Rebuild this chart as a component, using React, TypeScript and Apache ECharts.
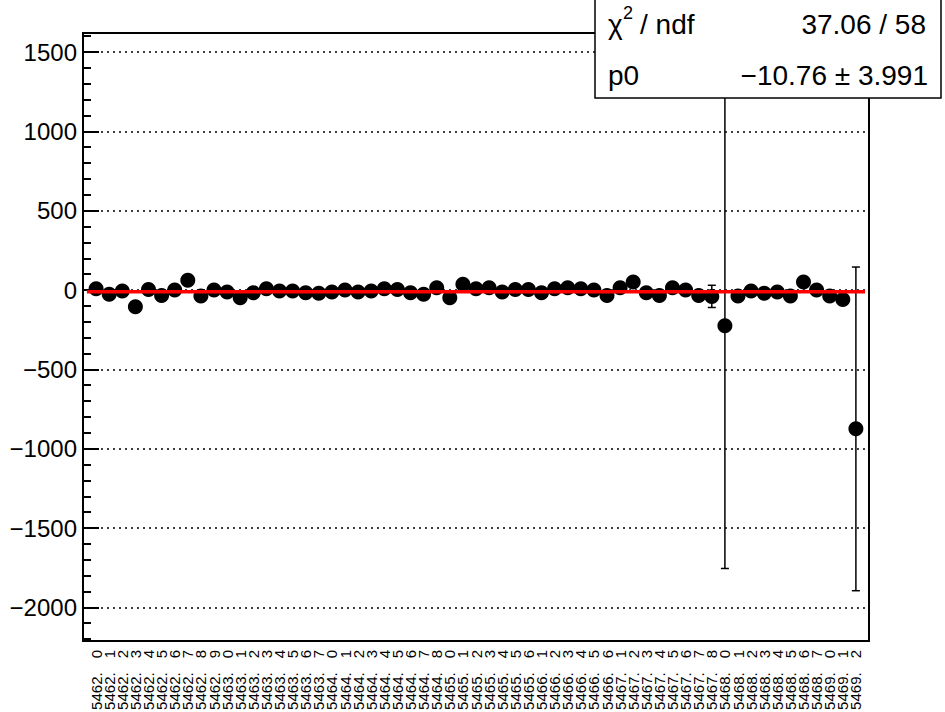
import React, { useEffect, useRef } from "react";
import * as echarts from "echarts";

// Bin labels (run. subrun), one per point, left to right
const runLabels: string[] = [
  "5462. 0", "5462. 1", "5462. 2", "5462. 3", "5462. 4", "5462. 5", "5462. 6", "5462. 7", "5462. 8", "5462. 9",
  "5463. 0", "5463. 1", "5463. 2", "5463. 3", "5463. 4", "5463. 5", "5463. 6", "5463. 7",
  "5464. 0", "5464. 1", "5464. 2", "5464. 3", "5464. 4", "5464. 5", "5464. 6", "5464. 7", "5464. 8",
  "5465. 0", "5465. 1", "5465. 2", "5465. 3", "5465. 4", "5465. 5", "5465. 6",
  "5466. 1", "5466. 2", "5466. 3", "5466. 4", "5466. 5", "5466. 6",
  "5467. 1", "5467. 2", "5467. 3", "5467. 4", "5467. 5", "5467. 6", "5467. 7", "5467. 8",
  "5468. 0", "5468. 1", "5468. 2", "5468. 3", "5468. 4", "5468. 5", "5468. 6", "5468. 7",
  "5469. 0", "5469. 1", "5469. 2",
];

// Measured values per bin
const values: number[] = [
  8, -27, -6, -105, 4, -34, 0, 61, -38, 0,
  -13, -48, -17, 8, -6, -6, -17, -21, -13, 0,
  -13, -6, 8, 4, -17, -27, 15, -48, 36, 8,
  15, -13, 4, 4, -17, 8, 15, 8, 0, -34,
  15, 50, -17, -34, 15, 0, -34, -40, -225, -38,
  -6, -21, -13, -38, 50, 0, -38, -59, -875,
];

// Errors per bin
const errors: number[] = [
  30, 30, 30, 30, 30, 30, 30, 30, 30, 30,
  30, 30, 30, 30, 30, 30, 30, 30, 30, 30,
  30, 30, 30, 30, 30, 30, 30, 30, 30, 30,
  30, 30, 30, 30, 30, 30, 30, 30, 30, 30,
  30, 30, 30, 30, 30, 30, 30, 70, 1530, 30,
  30, 30, 30, 30, 30, 30, 30, 30, 1020,
];

const yMajorTicks: number[] = [-2000, -1500, -1000, -500, 0, 500, 1000, 1500];
const yMinorTicks: number[] = [
  -2200, -2100, -1900, -1800, -1700, -1600, -1400, -1300, -1200, -1100,
  -900, -800, -700, -600, -400, -300, -200, -100, 100, 200, 300, 400,
  600, 700, 800, 900, 1100, 1200, 1300, 1400, 1600,
];
const yMin = -2212;
const yMax = 1620;
const xMin = 0;
const xMax = 60;

const fitP0 = -10.76;
const fitRange: number[] = [0.3, 59.7];

const statsChi = "χ";
const statsSup = "2";
const statsNdfLabel = "/ ndf";
const statsChiValue = "37.06 / 58";
const statsP0Label = "p0";
const statsP0Value = "−10.76 ± 3.991";

const FONT = '"Liberation Sans", Arial, Helvetica, sans-serif';

function fmtY(v: number): string {
  return v < 0 ? "−" + Math.abs(v) : String(v);
}

export default function App() {
  const ref = useRef<HTMLDivElement>(null);

  useEffect(() => {
    if (!ref.current) return;
    const chart = echarts.init(ref.current, undefined, { renderer: "svg" });

    const points = values.map((v, i) => [i + 1, v, errors[i]]);

    const option: any = {
      animation: false,
      backgroundColor: "#fff",
      grid: {
        left: 83,
        top: 33,
        right: 76,
        bottom: 71,
        containLabel: false,
        outerBoundsMode: "none",
        show: true,
        borderColor: "#000",
        borderWidth: 2,
        backgroundColor: "transparent",
      },
      xAxis: {
        type: "value",
        min: xMin,
        max: xMax,
        interval: 1,
        axisLine: { show: true, onZero: false, lineStyle: { color: "#000", width: 2 } },
        axisTick: { show: false },
        splitLine: { show: false },
        axisLabel: {
          rotate: 90,
          margin: 9,
          color: "#000",
          fontFamily: FONT,
          fontSize: 15,
          showMinLabel: false,
          showMaxLabel: false,
          formatter: (v: number) => {
            const lab = runLabels[Math.round(v) - 1];
            if (!lab) return "";
            const parts = lab.split(". ");
            return "{r|" + parts[0] + ".}{s|" + parts[1] + "}";
          },
          rich: {
            r: { fontSize: 15, fontFamily: FONT, color: "#000" },
            s: { fontSize: 15, fontFamily: FONT, color: "#000", padding: [0, 0, 0, 14] },
          },
        },
      },
      yAxis: [
        {
          type: "value",
          min: yMin,
          max: yMax,
          position: "left",
          axisLine: { show: true, onZero: false, lineStyle: { color: "#000", width: 2 } },
          axisTick: {
            show: true,
            inside: true,
            length: 16,
            customValues: yMajorTicks,
            lineStyle: { color: "#000", width: 2 },
          },
          axisLabel: {
            customValues: yMajorTicks,
            color: "#000",
            fontFamily: FONT,
            fontSize: 24,
            margin: 6,
            formatter: (v: number) => fmtY(v),
          },
          splitLine: { show: false },
        },
        {
          type: "value",
          min: yMin,
          max: yMax,
          position: "left",
          offset: 0,
          axisLine: { show: false },
          axisTick: {
            show: true,
            inside: true,
            length: 8,
            customValues: yMinorTicks,
            lineStyle: { color: "#000", width: 2 },
          },
          axisLabel: { show: false },
          splitLine: { show: false },
        },
      ],
      series: [
        {
          type: "custom",
          name: "errors",
          z: 1,
          clip: true,
          data: points,
          encode: { x: 0, y: 1 },
          renderItem: (_params: any, api: any) => {
            const x = api.value(0);
            const y = api.value(1);
            const e = api.value(2);
            const top = api.coord([x, y + e]);
            const bot = api.coord([x, y - e]);
            const cw = 4;
            const st = { stroke: "#000", lineWidth: 1.5 };
            return {
              type: "group",
              children: [
                { type: "line", shape: { x1: top[0], y1: top[1], x2: bot[0], y2: bot[1] }, style: st },
                { type: "line", shape: { x1: top[0] - cw, y1: top[1], x2: top[0] + cw, y2: top[1] }, style: st },
                { type: "line", shape: { x1: bot[0] - cw, y1: bot[1], x2: bot[0] + cw, y2: bot[1] }, style: st },
              ],
            };
          },
        },
        {
          type: "scatter",
          name: "points",
          z: 3,
          symbol: "circle",
          symbolSize: 15,
          itemStyle: { color: "#000", opacity: 1 },
          data: points.map((p) => [p[0], p[1]]),
          markLine: {
            silent: true,
            symbol: ["none", "none"],
            label: { show: false },
            lineStyle: { color: "#000", width: 1.6, type: [2, 4], opacity: 1 },
            data: yMajorTicks.map((t) => ({ yAxis: t })),
          },
        },
        {
          type: "line",
          name: "fit",
          z: 5,
          showSymbol: false,
          symbol: "none",
          lineStyle: { color: "#ff0000", width: 3.5 },
          data: fitRange.map((x) => [x, fitP0]),
        },
      ],
      graphic: [
        {
          type: "rect",
          z: 100,
          shape: { x: 595, y: -2, width: 346, height: 100 },
          style: { fill: "#fff", stroke: "#000", lineWidth: 1.5 },
        },
        {
          type: "text",
          z: 101,
          x: 608,
          y: 24,
          style: { text: statsChi, font: "28px " + FONT, fill: "#000", verticalAlign: "middle" },
        },
        {
          type: "text",
          z: 101,
          x: 623,
          y: 13,
          style: { text: statsSup, font: "18px " + FONT, fill: "#000", verticalAlign: "middle" },
        },
        {
          type: "text",
          z: 101,
          x: 640,
          y: 24,
          style: { text: statsNdfLabel, font: "28px " + FONT, fill: "#000", verticalAlign: "middle" },
        },
        {
          type: "text",
          z: 101,
          x: 926,
          y: 24,
          style: { text: statsChiValue, font: "28px " + FONT, fill: "#000", align: "right", verticalAlign: "middle" },
        },
        {
          type: "text",
          z: 101,
          x: 608,
          y: 75,
          style: { text: statsP0Label, font: "28px " + FONT, fill: "#000", verticalAlign: "middle" },
        },
        {
          type: "text",
          z: 101,
          x: 928,
          y: 75,
          style: { text: statsP0Value, font: "28px " + FONT, fill: "#000", align: "right", verticalAlign: "middle" },
        },
      ],
    };

    chart.setOption(option);
    return () => {
      chart.dispose();
    };
  }, []);

  return (
    <div
      ref={ref}
      style={{ position: "fixed", left: 0, top: 0, width: 945, height: 712, background: "#fff" }}
    />
  );
}
